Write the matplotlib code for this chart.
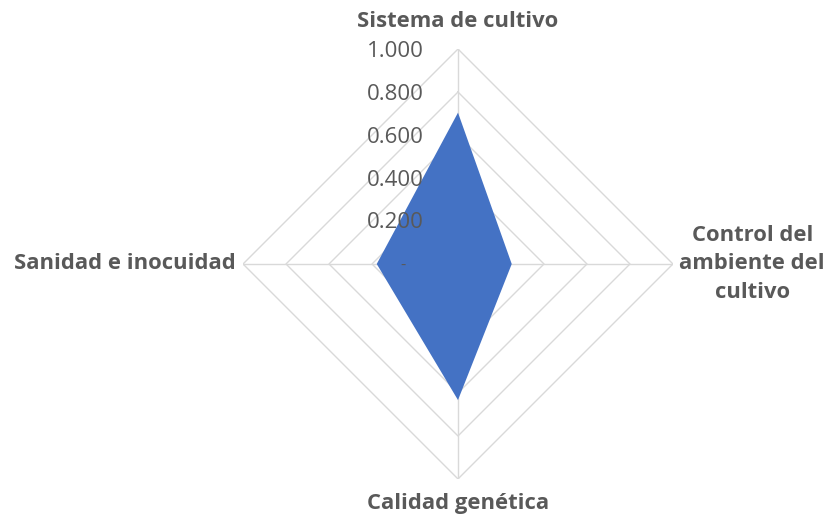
import matplotlib
matplotlib.use("Agg")
import matplotlib.pyplot as plt
import matplotlib.transforms as mtransforms
import numpy as np

categories = ["Sistema de cultivo", "Control del\nambiente del\ncultivo",
              "Calidad genética", "Sanidad e inocuidad"]
values = [0.704, 0.25, 0.633, 0.378]
levels = [0.2, 0.4, 0.6, 0.8, 1.0]
level_labels = ["0.200", "0.400", "0.600", "0.800", "1.000"]

plt.rcParams['font.family'] = ['Open Sans', 'DejaVu Sans']
txt = '#595959'

fig = plt.figure(figsize=(8.3, 5.15), dpi=100)
ax = fig.add_axes([0.2928, 0.0699, 0.518, 0.835], projection='polar')
ax.set_theta_offset(np.pi / 2)
ax.set_theta_direction(-1)

theta = np.linspace(0, 2 * np.pi, len(categories), endpoint=False)
theta_c = np.append(theta, theta[0])

# polygon gridlines
for lv in levels:
    ax.plot(theta_c, [lv] * len(theta_c), color='#D9D9D9', lw=1.0, zorder=1)
for t in theta:
    ax.plot([t, t], [0, 1], color='#D9D9D9', lw=1.0, zorder=1)

vals = np.append(values, values[0])
ax.fill(theta_c, vals, color='#4472C4', zorder=2, lw=0)

ax.set_ylim(0, 1)
ax.grid(False)
ax.spines['polar'].set_visible(False)
ax.set_xticks([])
ax.set_yticks([])
ax.patch.set_alpha(0)

# radial tick labels
off = mtransforms.offset_copy(ax.transData, fig=fig, x=-34, y=-2, units='dots')
for lv, lab in zip(levels, level_labels):
    ax.text(0, lv, lab, transform=off, ha='right', va='center',
            fontsize=16, color=txt, zorder=3)
off0 = mtransforms.offset_copy(ax.transData, fig=fig, x=-52, y=-2, units='dots')
ax.text(0, 0, "-", transform=off0, ha='right', va='center', fontsize=12,
        color=txt, zorder=3)

# category labels
kw = dict(fontsize=15.8, fontweight='bold', color=txt)
ax.text(theta[0], 1.13, categories[0], ha='center', va='center', **kw)
ax.text(theta[1], 1.03, categories[1], ha='left', va='center',
        multialignment='center', linespacing=1.45, **kw)
ax.text(theta[2], 1.115, categories[2], ha='center', va='center', **kw)
ax.text(theta[3], 1.035, categories[3], ha='right', va='center', **kw)

fig.savefig("out.png", dpi=100)
